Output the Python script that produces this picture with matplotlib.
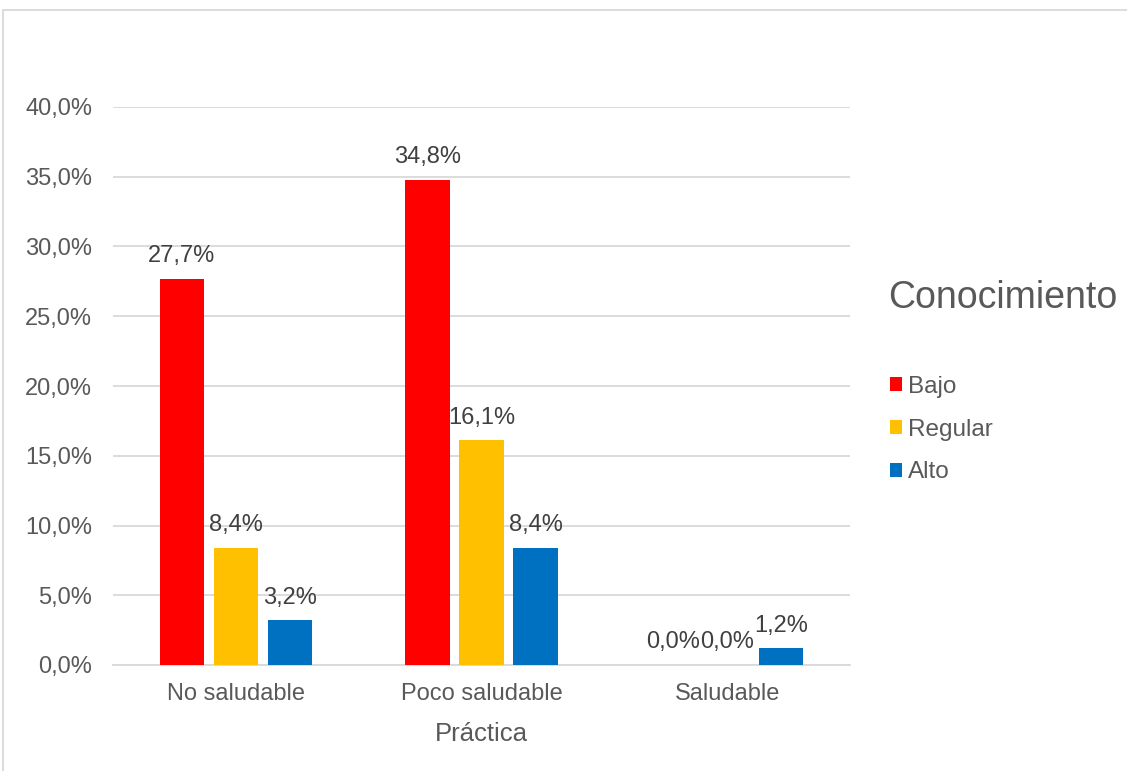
import numpy as np
import matplotlib.pyplot as plt
from matplotlib.patches import Rectangle

plt.rcParams['font.family'] = ['Liberation Sans', 'DejaVu Sans']

categories = ["No saludable", "Poco saludable", "Saludable"]
series = ["Bajo", "Regular", "Alto"]
bajo = [27.7, 34.8, 0.0]
regular = [8.4, 16.1, 0.0]
alto = [3.2, 8.4, 1.2]
colors = ["#FF0000", "#FFC000", "#0070C0"]
yticks = [0, 5, 10, 15, 20, 25, 30, 35, 40]

txt = "#595959"
grid = "#D9D9D9"

fig = plt.figure(figsize=(11.27, 7.71), dpi=100)
ax = fig.add_axes([113/1127, 1-665/771, (850-113)/1127, (665-107)/771])

x = np.arange(len(categories))
w = 0.18
offs = [-0.22, 0, 0.22]
for vals, name, c, o in zip([bajo, regular, alto], series, colors, offs):
    bars = ax.bar(x + o, vals, w, color=c, label=name, zorder=3)
    for xi, v in zip(x + o, vals):
        ax.annotate(f"{v:.1f}%".replace(".", ","), (xi, v), xytext=(0, 12),
                    textcoords="offset points", ha="center", va="baseline",
                    fontsize=17, color="#404040", zorder=4)

ax.set_xlim(-0.5, 2.5)
ax.set_ylim(0, 40)
ax.set_yticks(yticks)
ax.set_yticklabels([f"{t:.1f}%".replace(".", ",") for t in yticks])
ax.set_xticks(x)
ax.set_xticklabels(categories)
ax.tick_params(axis="both", length=0, labelsize=17, colors=txt)
ax.tick_params(axis="y", pad=15)
ax.tick_params(axis="x", pad=13)
ax.grid(axis="y", color=grid, linewidth=1.3, zorder=0)
for s in ["top", "right", "left"]:
    ax.spines[s].set_visible(False)
ax.spines["bottom"].set_color(grid)
ax.spines["bottom"].set_linewidth(1.3)
ax.set_xlabel("Práctica", fontsize=18.5, color=txt, labelpad=12)

fig.text(1003/1127, 1-298/771, "Conocimiento", fontsize=27, color=txt,
         ha="center", va="center")
leg = ax.legend(loc="upper left", bbox_to_anchor=(890/1127, 1-376/771),
                bbox_transform=fig.transFigure, frameon=False, fontsize=17.5,
                handlelength=0.5, handleheight=0.5, handletextpad=0.25,
                labelspacing=0.85, borderpad=0, borderaxespad=0)
for t in leg.get_texts():
    t.set_color(txt)

fig.patches.append(Rectangle((0.003, -0.01), 1.0, 0.997, transform=fig.transFigure,
                             fill=False, edgecolor=grid, linewidth=1.3))

fig.savefig("out.png", dpi=100)
